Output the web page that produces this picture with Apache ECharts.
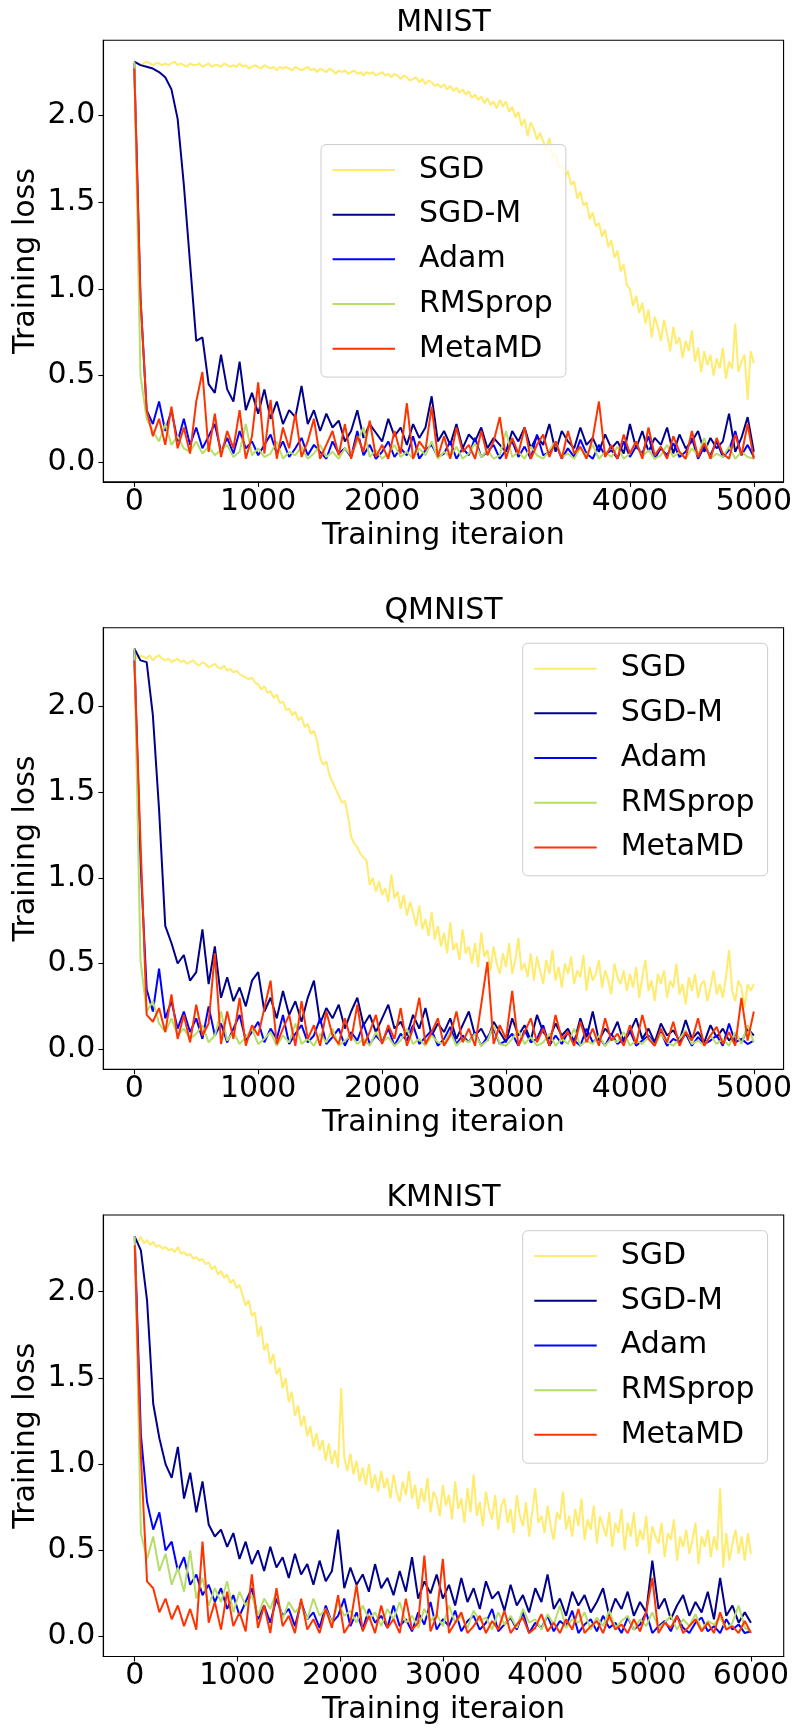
<!DOCTYPE html>
<html>
<head>
<meta charset="utf-8">
<script src="https://cdn.jsdelivr.net/npm/echarts@6/dist/echarts.min.js"></script>
<style>
html,body{margin:0;padding:0;background:#fff;}
#chart{width:795px;height:1729px;}
</style>
</head>
<body>
<div id="chart"></div>
<script>
// ---------------- data ----------------
const seriesNames = ['SGD', 'SGD-M', 'Adam', 'RMSprop', 'MetaMD'];
const panelTitles = ['MNIST', 'QMNIST', 'KMNIST'];
const xAxisName = 'Training iteraion';
const yAxisName = 'Training loss';
const xTicksA = [0, 1000, 2000, 3000, 4000, 5000];
const xTicksK = [0, 1000, 2000, 3000, 4000, 5000, 6000];
const yTicks = [0, 0.5, 1.0, 1.5, 2.0];
// sampling steps (iterations between stored points)
const stepA = 50, stepSGD_A = 25;   // MNIST / QMNIST
const stepK = 60, stepSGD_K = 30;   // KMNIST

// MNIST (SGD sampled every 25 iterations, the others every 50)
const mnistSGD = [2.31,2.30,2.29,2.30,2.31,2.30,2.29,2.30,2.30,2.29,
2.30,2.29,2.30,2.31,2.29,2.30,2.29,2.28,2.30,2.29,
2.29,2.30,2.28,2.29,2.30,2.28,2.29,2.29,2.28,2.30,
2.29,2.28,2.29,2.28,2.30,2.28,2.29,2.27,2.28,2.29,
2.28,2.27,2.29,2.28,2.27,2.28,2.26,2.28,2.27,2.28,
2.27,2.26,2.28,2.27,2.26,2.27,2.28,2.26,2.27,2.25,
2.27,2.26,2.25,2.27,2.26,2.24,2.26,2.25,2.26,2.24,
2.25,2.26,2.24,2.25,2.23,2.25,2.24,2.25,2.23,2.24,
2.25,2.23,2.24,2.22,2.24,2.23,2.21,2.23,2.22,2.20,
2.21,2.22,2.19,2.21,2.18,2.20,2.19,2.17,2.18,2.16,
2.18,2.15,2.17,2.14,2.16,2.13,2.15,2.12,2.14,2.10,
2.12,2.09,2.11,2.07,2.10,2.06,2.08,2.04,2.09,2.05,
2.08,2.02,2.05,1.99,2.02,1.94,1.98,1.88,1.96,1.92,
1.86,1.90,1.85,1.80,1.87,1.76,1.78,1.70,1.72,1.64,
1.68,1.60,1.62,1.52,1.56,1.48,1.50,1.40,1.44,1.36,
1.38,1.30,1.34,1.24,1.28,1.18,1.22,1.10,1.14,1.02,
1.00,0.90,0.96,0.86,0.92,0.80,0.88,0.72,0.84,0.78,
0.70,0.82,0.74,0.64,0.78,0.68,0.72,0.60,0.70,0.64,
0.76,0.58,0.66,0.52,0.64,0.56,0.62,0.50,0.60,0.54,
0.66,0.48,0.58,0.54,0.80,0.52,0.58,0.62,0.36,0.64,0.57];
const mnistSGDM = [2.31,2.29,2.28,2.27,2.25,2.22,2.15,1.98,1.60,1.15,
0.70,0.72,0.45,0.40,0.62,0.42,0.35,0.58,0.30,0.40,
0.28,0.42,0.25,0.35,0.22,0.30,0.26,0.44,0.22,0.30,
0.18,0.28,0.20,0.24,0.12,0.18,0.30,0.14,0.22,0.17,
0.12,0.25,0.15,0.20,0.10,0.22,0.14,0.20,0.38,0.12,
0.18,0.10,0.22,0.08,0.16,0.12,0.20,0.08,0.14,0.10,
0.06,0.18,0.12,0.20,0.08,0.15,0.10,0.22,0.06,0.18,
0.12,0.08,0.20,0.10,0.14,0.06,0.16,0.08,0.12,0.05,
0.22,0.08,0.18,0.06,0.14,0.10,0.20,0.05,0.16,0.08,
0.12,0.18,0.06,0.14,0.08,0.12,0.28,0.06,0.14,0.26,0.06];
const mnistAdam = [2.30,0.95,0.30,0.22,0.35,0.18,0.30,0.12,0.25,0.10,
0.20,0.08,0.15,0.22,0.06,0.14,0.05,0.18,0.08,0.12,
0.04,0.10,0.16,0.05,0.12,0.03,0.08,0.14,0.04,0.10,
0.06,0.02,0.12,0.05,0.08,0.03,0.18,0.04,0.10,0.02,
0.06,0.12,0.03,0.08,0.04,0.15,0.02,0.07,0.10,0.03,
0.05,0.12,0.02,0.08,0.04,0.14,0.03,0.06,0.10,0.02,
0.07,0.12,0.03,0.09,0.02,0.16,0.04,0.06,0.11,0.02,
0.08,0.03,0.13,0.05,0.02,0.10,0.04,0.07,0.02,0.12,
0.03,0.09,0.05,0.15,0.02,0.08,0.04,0.11,0.03,0.06,
0.14,0.02,0.09,0.04,0.12,0.03,0.07,0.18,0.04,0.10,0.03];
const mnistRMSprop = [2.31,0.50,0.25,0.18,0.12,0.22,0.10,0.15,0.08,0.06,
0.12,0.05,0.09,0.04,0.07,0.10,0.03,0.06,0.22,0.04,
0.08,0.03,0.05,0.12,0.02,0.06,0.04,0.09,0.02,0.05,
0.10,0.03,0.06,0.02,0.08,0.04,0.12,0.20,0.03,0.07,
0.02,0.05,0.10,0.03,0.06,0.02,0.08,0.04,0.12,0.02,
0.06,0.03,0.09,0.02,0.05,0.11,0.03,0.07,0.02,0.04,
0.18,0.03,0.06,0.02,0.09,0.04,0.02,0.07,0.12,0.03,
0.05,0.02,0.08,0.04,0.10,0.02,0.06,0.03,0.09,0.02,
0.05,0.12,0.03,0.07,0.02,0.04,0.10,0.03,0.06,0.02,
0.08,0.04,0.14,0.02,0.05,0.03,0.09,0.02,0.06,0.03,0.02];
const mnistMetaMD = [2.27,0.95,0.30,0.15,0.25,0.10,0.32,0.08,0.20,0.05,
0.35,0.52,0.06,0.28,0.03,0.18,0.08,0.30,0.02,0.15,
0.46,0.05,0.36,0.02,0.20,0.08,0.28,0.03,0.12,0.25,
0.02,0.10,0.18,0.04,0.22,0.02,0.15,0.06,0.24,0.03,
0.10,0.02,0.18,0.05,0.34,0.02,0.12,0.07,0.32,0.03,
0.15,0.02,0.20,0.06,0.10,0.02,0.18,0.04,0.12,0.26,
0.02,0.14,0.05,0.20,0.02,0.10,0.16,0.03,0.12,0.02,
0.18,0.05,0.09,0.02,0.14,0.35,0.03,0.10,0.02,0.16,
0.05,0.12,0.02,0.20,0.04,0.09,0.02,0.15,0.06,0.02,
0.18,0.03,0.11,0.02,0.14,0.05,0.02,0.16,0.04,0.22,0.02];

// QMNIST (SGD sampled every 25 iterations, the others every 50)
const qmnistSGD = [2.31,2.28,2.30,2.29,2.28,2.30,2.27,2.29,2.30,2.28,
2.27,2.28,2.26,2.27,2.28,2.26,2.27,2.25,2.26,2.27,
2.25,2.24,2.26,2.25,2.23,2.24,2.25,2.23,2.22,2.24,
2.21,2.22,2.20,2.21,2.19,2.18,2.17,2.16,2.17,2.14,
2.13,2.10,2.12,2.08,2.09,2.05,2.07,2.02,2.03,1.98,
1.99,1.95,1.97,1.92,1.94,1.88,1.90,1.84,1.86,1.80,
1.70,1.66,1.68,1.60,1.56,1.52,1.48,1.44,1.45,1.36,
1.24,1.20,1.18,1.14,1.12,1.10,0.96,1.00,0.92,0.98,
0.90,0.94,0.86,1.02,0.88,0.92,0.82,0.90,0.78,0.86,
0.80,0.72,0.84,0.70,0.76,0.66,0.80,0.64,0.72,0.60,
0.68,0.56,0.74,0.58,0.62,0.52,0.70,0.56,0.60,0.50,
0.62,0.48,0.68,0.54,0.58,0.46,0.60,0.50,0.44,0.56,
0.48,0.62,0.44,0.52,0.65,0.46,0.50,0.42,0.56,0.40,
0.54,0.46,0.38,0.52,0.44,0.58,0.40,0.48,0.36,0.50,
0.44,0.54,0.38,0.46,0.42,0.55,0.34,0.48,0.40,0.44,
0.52,0.36,0.46,0.40,0.32,0.50,0.42,0.38,0.46,0.34,
0.44,0.36,0.48,0.30,0.42,0.52,0.34,0.40,0.28,0.44,
0.38,0.46,0.30,0.40,0.36,0.50,0.32,0.38,0.26,0.42,
0.34,0.44,0.30,0.38,0.40,0.28,0.36,0.46,0.32,0.38,
0.30,0.42,0.58,0.34,0.28,0.40,0.36,0.24,0.38,0.34,0.38];
const qmnistSGDM = [2.34,2.27,2.26,1.95,1.40,0.72,0.62,0.50,0.55,0.40,
0.45,0.70,0.38,0.60,0.30,0.42,0.28,0.36,0.25,0.40,
0.45,0.22,0.30,0.18,0.34,0.20,0.28,0.16,0.30,0.40,
0.15,0.24,0.18,0.26,0.12,0.22,0.30,0.14,0.20,0.10,
0.18,0.26,0.12,0.16,0.08,0.20,0.12,0.24,0.08,0.15,
0.10,0.18,0.06,0.14,0.22,0.08,0.12,0.05,0.16,0.10,
0.04,0.18,0.08,0.14,0.05,0.20,0.10,0.06,0.15,0.08,
0.12,0.04,0.18,0.07,0.22,0.05,0.12,0.08,0.16,0.04,
0.10,0.18,0.06,0.12,0.04,0.15,0.08,0.11,0.05,0.17,
0.06,0.10,0.04,0.14,0.07,0.12,0.05,0.09,0.04,0.12,0.08];
const qmnistAdam = [2.33,1.10,0.35,0.22,0.47,0.18,0.28,0.12,0.22,0.10,
0.18,0.06,0.25,0.08,0.15,0.04,0.12,0.20,0.05,0.10,
0.16,0.04,0.12,0.06,0.20,0.03,0.09,0.14,0.04,0.08,
0.18,0.03,0.07,0.12,0.02,0.10,0.05,0.15,0.03,0.08,
0.04,0.12,0.02,0.09,0.05,0.14,0.03,0.07,0.11,0.02,
0.06,0.13,0.03,0.08,0.04,0.10,0.02,0.07,0.12,0.03,
0.05,0.09,0.02,0.11,0.04,0.06,0.14,0.02,0.08,0.03,
0.10,0.05,0.02,0.12,0.04,0.07,0.02,0.09,0.03,0.06,
0.11,0.02,0.05,0.08,0.03,0.10,0.02,0.06,0.04,0.09,
0.02,0.07,0.03,0.05,0.08,0.02,0.15,0.04,0.06,0.03,0.05];
const qmnistRMSprop = [2.34,0.52,0.22,0.28,0.15,0.10,0.18,0.08,0.12,0.06,
0.09,0.14,0.04,0.08,0.22,0.05,0.10,0.03,0.07,0.12,
0.03,0.06,0.10,0.02,0.08,0.04,0.15,0.03,0.06,0.02,
0.09,0.04,0.12,0.02,0.05,0.08,0.03,0.06,0.02,0.10,
0.04,0.07,0.02,0.05,0.12,0.03,0.06,0.02,0.08,0.04,
0.03,0.10,0.02,0.06,0.04,0.09,0.02,0.05,0.14,0.03,
0.02,0.06,0.11,0.03,0.07,0.02,0.04,0.09,0.02,0.06,
0.03,0.12,0.02,0.05,0.03,0.08,0.02,0.06,0.04,0.10,
0.02,0.05,0.03,0.07,0.02,0.09,0.04,0.02,0.06,0.11,
0.03,0.05,0.02,0.08,0.03,0.06,0.02,0.10,0.03,0.14,0.04];
const qmnistMetaMD = [2.27,1.22,0.20,0.16,0.24,0.10,0.32,0.06,0.20,0.04,
0.26,0.08,0.15,0.56,0.03,0.22,0.06,0.30,0.02,0.14,
0.08,0.24,0.40,0.03,0.12,0.20,0.02,0.28,0.06,0.14,
0.02,0.22,0.08,0.03,0.18,0.05,0.26,0.02,0.10,0.20,
0.03,0.14,0.06,0.24,0.02,0.12,0.30,0.03,0.10,0.18,
0.02,0.08,0.22,0.04,0.12,0.02,0.26,0.51,0.03,0.14,
0.06,0.34,0.02,0.10,0.18,0.04,0.12,0.02,0.20,0.06,
0.10,0.02,0.16,0.04,0.12,0.02,0.18,0.05,0.09,0.02,
0.14,0.03,0.20,0.06,0.02,0.12,0.04,0.16,0.02,0.10,
0.05,0.18,0.02,0.08,0.13,0.03,0.10,0.02,0.30,0.05,0.22];

// KMNIST (SGD sampled every 30 iterations, the others every 60)
const kmnistSGD = [2.31,2.29,2.32,2.28,2.30,2.27,2.29,2.26,2.27,2.25,
2.26,2.24,2.25,2.23,2.26,2.22,2.23,2.21,2.22,2.19,
2.20,2.18,2.19,2.16,2.17,2.13,2.15,2.10,2.12,2.08,
2.10,2.05,2.07,2.02,2.04,1.98,1.92,1.95,1.86,1.88,
1.74,1.80,1.66,1.70,1.58,1.64,1.52,1.56,1.44,1.50,
1.36,1.42,1.28,1.34,1.22,1.28,1.16,1.22,1.10,1.18,
1.08,1.14,1.02,1.12,1.00,1.08,0.98,1.44,1.04,0.96,
1.06,0.94,1.02,0.90,0.98,0.88,1.00,0.86,0.94,0.84,
0.96,0.86,0.92,0.80,0.94,0.84,0.78,0.90,0.82,0.96,
0.80,0.88,0.74,0.86,0.78,0.92,0.72,0.84,0.80,0.70,
0.88,0.76,0.82,0.68,0.90,0.74,0.80,0.66,0.86,0.72,
0.94,0.70,0.78,0.64,0.84,0.74,0.68,0.82,0.62,0.76,
0.80,0.66,0.74,0.60,0.82,0.70,0.64,0.78,0.58,0.72,
0.86,0.66,0.70,0.60,0.76,0.64,0.56,0.72,0.68,0.84,
0.62,0.70,0.58,0.74,0.64,0.80,0.56,0.68,0.62,0.76,
0.54,0.70,0.64,0.58,0.72,0.52,0.66,0.60,0.74,0.50,
0.66,0.58,0.72,0.52,0.62,0.56,0.70,0.48,0.64,0.58,
0.54,0.66,0.46,0.60,0.56,0.68,0.44,0.58,0.52,0.62,
0.48,0.56,0.66,0.42,0.58,0.52,0.62,0.46,0.58,0.50,
0.86,0.40,0.60,0.44,0.54,0.62,0.48,0.58,0.44,0.60,0.48];
const kmnistSGDM = [2.32,2.24,1.95,1.35,1.15,1.00,0.92,1.10,0.80,0.95,
0.72,0.90,0.65,0.58,0.62,0.52,0.60,0.45,0.55,0.42,
0.50,0.38,0.52,0.40,0.46,0.34,0.48,0.36,0.42,0.30,
0.44,0.32,0.38,0.62,0.28,0.40,0.30,0.36,0.26,0.42,
0.28,0.34,0.24,0.38,0.26,0.46,0.22,0.32,0.25,0.36,
0.22,0.30,0.18,0.34,0.20,0.28,0.16,0.32,0.22,0.26,
0.15,0.30,0.18,0.24,0.14,0.28,0.20,0.36,0.16,0.22,
0.12,0.26,0.18,0.24,0.14,0.20,0.28,0.12,0.22,0.16,
0.26,0.12,0.20,0.14,0.44,0.16,0.22,0.10,0.18,0.24,
0.12,0.20,0.14,0.26,0.10,0.34,0.12,0.18,0.08,0.14,0.08];
const kmnistAdam = [2.32,1.17,0.78,0.62,0.72,0.50,0.55,0.38,0.46,0.30,
0.36,0.24,0.30,0.20,0.28,0.16,0.24,0.12,0.20,0.28,
0.10,0.18,0.08,0.22,0.12,0.16,0.06,0.20,0.10,0.14,
0.05,0.18,0.08,0.12,0.22,0.06,0.14,0.04,0.16,0.08,
0.12,0.05,0.18,0.06,0.10,0.03,0.14,0.07,0.20,0.04,
0.10,0.06,0.15,0.03,0.09,0.12,0.04,0.08,0.16,0.03,
0.07,0.11,0.04,0.14,0.02,0.08,0.05,0.12,0.03,0.09,
0.06,0.15,0.02,0.07,0.10,0.03,0.12,0.05,0.08,0.02,
0.11,0.04,0.07,0.14,0.02,0.06,0.09,0.03,0.12,0.05,
0.02,0.08,0.11,0.03,0.06,0.02,0.10,0.04,0.07,0.02,0.03];
const kmnistRMSprop = [2.32,0.60,0.45,0.58,0.38,0.48,0.30,0.40,0.26,0.50,
0.22,0.34,0.18,0.28,0.20,0.32,0.14,0.26,0.18,0.24,
0.12,0.22,0.16,0.26,0.10,0.20,0.14,0.18,0.10,0.22,
0.12,0.16,0.08,0.20,0.12,0.15,0.08,0.18,0.10,0.14,
0.06,0.16,0.10,0.20,0.08,0.12,0.05,0.16,0.09,0.13,
0.06,0.18,0.08,0.12,0.05,0.15,0.09,0.11,0.04,0.14,
0.07,0.12,0.05,0.16,0.08,0.10,0.04,0.13,0.07,0.18,
0.05,0.10,0.08,0.14,0.04,0.11,0.06,0.15,0.05,0.09,
0.12,0.04,0.10,0.06,0.14,0.05,0.08,0.12,0.04,0.10,
0.06,0.13,0.04,0.09,0.07,0.11,0.04,0.08,0.18,0.05,0.03];
const kmnistMetaMD = [2.27,1.05,0.32,0.28,0.14,0.22,0.10,0.18,0.06,0.16,
0.04,0.55,0.08,0.20,0.04,0.26,0.06,0.14,0.03,0.36,
0.05,0.18,0.02,0.28,0.06,0.12,0.02,0.22,0.04,0.10,
0.02,0.16,0.05,0.24,0.02,0.08,0.30,0.03,0.12,0.02,
0.18,0.05,0.10,0.02,0.22,0.04,0.08,0.47,0.03,0.12,
0.45,0.02,0.08,0.14,0.02,0.06,0.12,0.02,0.09,0.04,
0.15,0.02,0.07,0.11,0.02,0.05,0.13,0.03,0.08,0.02,
0.10,0.04,0.16,0.02,0.06,0.09,0.02,0.12,0.04,0.07,
0.02,0.10,0.03,0.14,0.34,0.02,0.08,0.05,0.12,0.02,
0.06,0.10,0.03,0.08,0.02,0.14,0.04,0.06,0.02,0.09,0.02];

// ---------------- layout / style ----------------
const colors = ['#ffeb6e', '#00008b', '#0000ff', '#b5dd6a', '#ff3300'];
const FONT = 'DejaVu Sans';
const panels = [
  { title: panelTitles[0], values: [mnistSGD, mnistSGDM, mnistAdam, mnistRMSprop, mnistMetaMD],
    steps: [stepSGD_A, stepA, stepA, stepA, stepA], xTicks: xTicksA,
    top: 40.3, xMin: -250, xMax: 5240, yMin: -0.113, yMax: 2.433, legendLeft: 321, legendTop: 144.6, titleY: 8.3 },
  { title: panelTitles[1], values: [qmnistSGD, qmnistSGDM, qmnistAdam, qmnistRMSprop, qmnistMetaMD],
    steps: [stepSGD_A, stepA, stepA, stepA, stepA], xTicks: xTicksA,
    top: 627.7, xMin: -250, xMax: 5240, yMin: -0.117, yMax: 2.461, legendLeft: 522.7, legendTop: 643.3, titleY: 596 },
  { title: panelTitles[2], values: [kmnistSGD, kmnistSGDM, kmnistAdam, kmnistRMSprop, kmnistMetaMD],
    steps: [stepSGD_K, stepK, stepK, stepK, stepK], xTicks: xTicksK,
    top: 1215, xMin: -306, xMax: 6319, yMin: -0.116, yMax: 2.445, legendLeft: 522.7, legendTop: 1230.7, titleY: 1182.8 }
];
const GRID_LEFT = 103.3, GRID_W = 680.4, GRID_H = 441.5;

const grid = [], xAxis = [], yAxis = [], series = [], legend = [], graphic = [];
panels.forEach((p, k) => {
  grid.push({ left: GRID_LEFT, top: p.top, width: GRID_W, height: GRID_H, show: true,
    borderColor: '#000', borderWidth: 1.1, backgroundColor: 'transparent', containLabel: false });
  xAxis.push({
    type: 'value', gridIndex: k, min: p.xMin, max: p.xMax,
    name: xAxisName, nameLocation: 'middle', nameGap: 39,
    nameTextStyle: { fontFamily: FONT, fontSize: 30, color: '#000', lineHeight: 30 },
    axisLine: { show: true, onZero: false, lineStyle: { color: '#000', width: 1.1 } },
    axisTick: { show: true, length: 5, inside: false, customValues: p.xTicks, lineStyle: { color: '#000', width: 1.1 } },
    axisLabel: { show: true, margin: 5, fontFamily: FONT, fontSize: 30, color: '#000', lineHeight: 30,
      customValues: p.xTicks, formatter: v => String(v) },
    splitLine: { show: false }
  });
  yAxis.push({
    type: 'value', gridIndex: k, min: p.yMin, max: p.yMax,
    axisLine: { show: true, onZero: false, lineStyle: { color: '#000', width: 1.1 } },
    axisTick: { show: true, length: 5, inside: false, customValues: yTicks, lineStyle: { color: '#000', width: 1.1 } },
    axisLabel: { show: true, margin: 8, fontFamily: FONT, fontSize: 30, color: '#000',
      customValues: yTicks, formatter: v => Number(v).toFixed(1) },
    splitLine: { show: false }
  });
  seriesNames.forEach((name, s) => {
    series.push({
      name: name, type: 'line', xAxisIndex: k, yAxisIndex: k,
      data: p.values[s].map((v, i) => [i * p.steps[s], v]),
      showSymbol: false, symbol: 'none', smooth: false,
      lineStyle: { color: colors[s], width: 2 }, itemStyle: { color: colors[s] },
      emphasis: { disabled: true }, silent: true, animation: false, clip: true
    });
  });
  legend.push({
    show: true, orient: 'vertical', left: p.legendLeft, top: p.legendTop,
    data: seriesNames, selectedMode: false,
    icon: 'rect', itemWidth: 62.4, itemHeight: 2, itemGap: 0,
    padding: [3, 13, 6, 11.6],
    backgroundColor: 'rgba(255,255,255,0.8)', borderColor: '#cccccc', borderWidth: 1, borderRadius: 5,
    textStyle: { fontFamily: FONT, fontSize: 30, color: '#000', lineHeight: 44.7, padding: [0, 0, 0, 19] }
  });
  graphic.push({
    type: 'text', x: GRID_LEFT + GRID_W / 2, y: p.titleY + 15,
    style: { text: p.title, fontFamily: FONT, fontSize: 30, fill: '#000', align: 'center', verticalAlign: 'middle' },
    silent: true
  });
  graphic.push({
    type: 'text', x: 26, y: p.top + GRID_H / 2, rotation: Math.PI / 2,
    style: { text: yAxisName, fontFamily: FONT, fontSize: 30, fill: '#000', align: 'center', verticalAlign: 'middle' },
    silent: true
  });
});

const chart = echarts.init(document.getElementById('chart'), null, { renderer: 'canvas' });
chart.setOption({
  animation: false,
  backgroundColor: '#fff',
  grid, xAxis, yAxis, series, legend, graphic
});
</script>
</body>
</html>
